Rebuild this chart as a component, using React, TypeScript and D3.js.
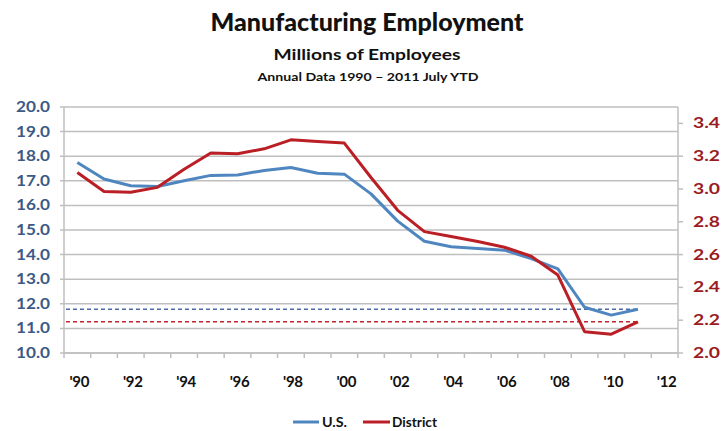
import React from "react";
import * as d3 from "d3";

const years = d3.range(1990, 2013).map(String);
const tickYears = ["1990","1992","1994","1996","1998","2000","2002","2004","2006","2008","2010","2012"];
const usYears = ["1990","1991","1992","1993","1994","1995","1996","1997","1998","1999","2000","2001","2002","2003","2004","2005","2006","2007","2008","2009","2010","2011"];
const usValues = [17.74, 17.07, 16.8, 16.77, 17.0, 17.22, 17.24, 17.42, 17.54, 17.31, 17.27, 16.47, 15.36, 14.54, 14.32, 14.25, 14.18, 13.84, 13.42, 11.86, 11.54, 11.78];
const districtValues = [3.1, 2.985, 2.98, 3.01, 3.12, 3.22, 3.215, 3.245, 3.3, 3.29, 3.28, 3.07, 2.87, 2.74, 2.71, 2.68, 2.645, 2.59, 2.475, 2.13, 2.115, 2.19];
const leftTicks = [10, 11, 12, 13, 14, 15, 16, 17, 18, 19, 20];
const rightTicks = [2.0, 2.2, 2.4, 2.6, 2.8, 3.0, 3.2, 3.4];
const usLevel = 11.78;
const districtLevel = 2.19;

const W = 722, H = 431;
const L = 64, R = 678, T = 107, B = 353;

export default function App() {
  const x = d3.scaleBand().domain(years).range([L, R]);
  const yL = d3.scaleLinear().domain([10, 20]).range([B, T]);
  const yR = d3.scaleLinear().domain([2.0, 3.5]).range([B, T]);
  const cx = (yr: string) => (x(yr) as number) + x.bandwidth() / 2;

  const usLine = d3.line<number>().x((_, i) => cx(usYears[i])).y((d) => yL(d));
  const dLine = d3.line<number>().x((_, i) => cx(usYears[i])).y((d) => yR(d));
  const lastX = cx(usYears[usYears.length - 1]);

  const font = "Lato, 'Open Sans', sans-serif";
  const grid = "#bfbfbf";

  return (
    <svg width={W} height={H} style={{ position: "absolute", left: 0, top: 0, background: "#fff" }} fontFamily={font}>
      <text x={367} y={31} textAnchor="middle" fontSize={24} fontWeight={900} fill="#111" textLength={313} lengthAdjust="spacingAndGlyphs">Manufacturing Employment</text>
      <text x={367} y={60} textAnchor="middle" fontSize={16} fontWeight={700} fill="#111" textLength={187} lengthAdjust="spacingAndGlyphs">Millions of Employees</text>
      <text x={368} y={81} textAnchor="middle" fontSize={12} fontWeight={700} fill="#111" textLength={221} lengthAdjust="spacingAndGlyphs">Annual Data 1990 – 2011 July YTD</text>

      {leftTicks.map((t) => (
        <g key={"g" + t}>
          <line x1={L - 4} x2={R} y1={yL(t)} y2={yL(t)} stroke={grid} strokeWidth={1.5} />
          <text x={50} y={yL(t) + 5} textAnchor="end" fontSize={15} fontWeight={700} fill="#3b5a86" textLength={34} lengthAdjust="spacingAndGlyphs">{t.toFixed(1)}</text>
        </g>
      ))}
      {rightTicks.map((t) => (
        <g key={"r" + t}>
          <line x1={R} x2={R + 5} y1={yR(t)} y2={yR(t)} stroke={grid} strokeWidth={1.5} />
          <text x={693} y={yR(t) + 5} textAnchor="start" fontSize={15} fontWeight={700} fill="#9b1c1f" textLength={27} lengthAdjust="spacingAndGlyphs">{t.toFixed(1)}</text>
        </g>
      ))}
      <line x1={L} x2={L} y1={T} y2={B} stroke={grid} strokeWidth={1.5} />
      <line x1={R} x2={R} y1={T} y2={B} stroke={grid} strokeWidth={1.5} />
      <line x1={L} x2={R} y1={B} y2={B} stroke={grid} strokeWidth={1.5} />
      {years.concat(["end"]).map((yr, i) => {
        const xx = L + i * x.step();
        return <line key={"xt" + i} x1={xx} x2={xx} y1={B} y2={B + 5} stroke={grid} strokeWidth={1.5} />;
      })}
      {tickYears.map((yr) => (
        <text key={"xl" + yr} x={cx(yr) + 2} y={387} textAnchor="middle" fontSize={15} fontWeight={700} fill="#111" letterSpacing={-0.3}>{"'" + yr.slice(2)}</text>
      ))}

      <line x1={L + 2} x2={lastX} y1={yL(usLevel)} y2={yL(usLevel)} stroke="#4a6aa8" strokeWidth={1.5} strokeDasharray="4,3" />
      <line x1={L + 2} x2={lastX} y1={yR(districtLevel)} y2={yR(districtLevel)} stroke="#c0262d" strokeWidth={1.5} strokeDasharray="4,3" />

      <path d={usLine(usValues) as string} fill="none" stroke="#4f86c0" strokeWidth={3} strokeLinejoin="round" />
      <path d={dLine(districtValues) as string} fill="none" stroke="#bb1f26" strokeWidth={3} strokeLinejoin="round" />

      <line x1={293} x2={319} y1={422} y2={422} stroke="#4f86c0" strokeWidth={3} />
      <text x={322} y={427} fontSize={14} fontWeight={700} fill="#111" textLength={25} lengthAdjust="spacingAndGlyphs">U.S.</text>
      <line x1={363} x2={390} y1={422} y2={422} stroke="#bb1f26" strokeWidth={3} />
      <text x={392} y={427} fontSize={14} fontWeight={700} fill="#111" textLength={45} lengthAdjust="spacingAndGlyphs">District</text>
    </svg>
  );
}
